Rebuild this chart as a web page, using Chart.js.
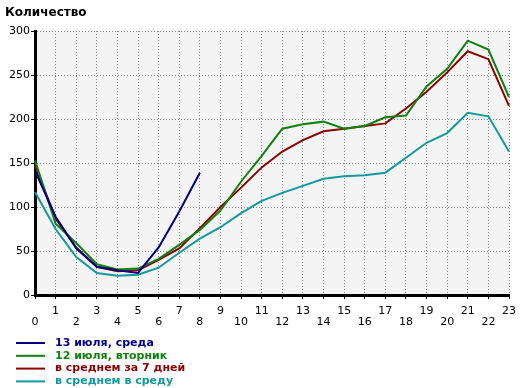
<!DOCTYPE html>
<html>
<head>
<meta charset="utf-8">
<script src="https://cdn.jsdelivr.net/npm/chart.js@4/dist/chart.umd.min.js"></script>
<style>
  html, body { margin: 0; padding: 0; background: #fff; }
  #wrap { width: 520px; height: 388px; position: relative; }
</style>
</head>
<body>
<div id="wrap"><canvas id="hourChart"></canvas></div>
<script>
// часы суток
const hours = ['0', '1', '2', '3', '4', '5', '6', '7', '8', '9', '10', '11',
               '12', '13', '14', '15', '16', '17', '18', '19', '20', '21', '22', '23'];

const seriesNames = ['13 июля, среда', '12 июля, вторник', 'в среднем за 7 дней', 'в среднем в среду'];
const seriesColors = ['#000080', '#108010', '#8b0000', '#13999b'];

// значения по часам
const wed13 = [141, 89, 53, 32, 28, 25, 54, 95, 139];
const tue12 = [153, 81, 59, 35, 29, 30, 41, 57, 74, 96, 129, 158, 189, 194, 197, 189, 192, 202, 204, 237, 257, 289, 279, 225];
const avg7days = [147, 87, 54, 32, 27, 28, 40, 53, 76, 100, 122, 145, 163, 176, 186, 189, 192, 195, 212, 231, 253, 277, 268, 215];
const avgWed = [117, 75, 43, 25, 22, 23, 31, 48, 64, 77, 93, 107, 116, 124, 132, 135, 136, 139, 156, 173, 184, 207, 203, 163];

const titleText = 'Количество';
const fontName = 'DejaVu Sans';

const seriesValues = [wed13, tue12, avg7days, avgWed];

// фон области графика, заголовок и легенда
const decorPlugin = {
    id: 'decor',
    beforeDraw(chart) {
        const { ctx, chartArea: a } = chart;
        ctx.save();
        ctx.fillStyle = '#f4f4f4';
        ctx.fillRect(a.left, a.top, a.right - a.left, a.bottom - a.top);
        ctx.restore();
    },
    afterDraw(chart) {
        const ctx = chart.ctx;
        ctx.save();
        ctx.fillStyle = '#000';
        ctx.font = 'bold 12px "' + fontName + '"';
        ctx.textBaseline = 'middle';
        ctx.fillText(titleText, 5, 13);

        ctx.font = 'bold 11px "' + fontName + '"';
        chart.data.datasets.forEach((ds, i) => {
            const y = 343 + i * 12.8;
            ctx.strokeStyle = ds.borderColor;
            ctx.lineWidth = 2;
            ctx.beginPath();
            ctx.moveTo(16, y);
            ctx.lineTo(45, y);
            ctx.stroke();
            ctx.fillStyle = ds.borderColor;
            ctx.fillText(ds.label, 55, y);
        });
        ctx.restore();
    }
};

new Chart(document.getElementById('hourChart').getContext('2d'), {
    type: 'line',
    data: {
        labels: hours,
        datasets: seriesValues.map((vals, i) => ({
            label: seriesNames[i],
            data: vals,
            borderColor: seriesColors[i],
            backgroundColor: seriesColors[i],
            borderWidth: 2,
            pointRadius: 0,
            tension: 0,
            fill: false
        }))
    },
    options: {
        responsive: true,
        maintainAspectRatio: false,
        animation: false,
        layout: { padding: { left: 0, right: 11, top: 31, bottom: 50 } },
        plugins: {
            legend: { display: false },
            title: { display: false },
            tooltip: { enabled: false }
        },
        scales: {
            x: {
                offset: false,
                afterFit(scale) {
                    scale.height = 43;
                    scale.paddingLeft = 0;
                    scale.paddingRight = 0;
                },
                grid: { color: '#888', tickColor: '#000', tickLength: 4, drawOnChartArea: true },
                border: { display: true, color: '#000', width: 3, dash: [1, 2] },
                ticks: {
                    autoSkip: false,
                    maxRotation: 0,
                    padding: 7,
                    color: '#000',
                    font: { family: fontName, size: 11, lineHeight: 1.0 },
                    callback(value, index) {
                        const lab = this.getLabelForValue(value);
                        return index % 2 === 0 ? ['', lab] : [lab];
                    }
                }
            },
            y: {
                min: 0,
                max: 300,
                afterFit(scale) { scale.width = 35; },
                grid: { color: '#888', tickColor: '#000', tickLength: 4 },
                border: { display: true, color: '#000', width: 3, dash: [1, 2] },
                ticks: {
                    stepSize: 50,
                    padding: 1,
                    color: '#000',
                    font: { family: fontName, size: 11 }
                }
            }
        }
    },
    plugins: [decorPlugin]
});
</script>
</body>
</html>
